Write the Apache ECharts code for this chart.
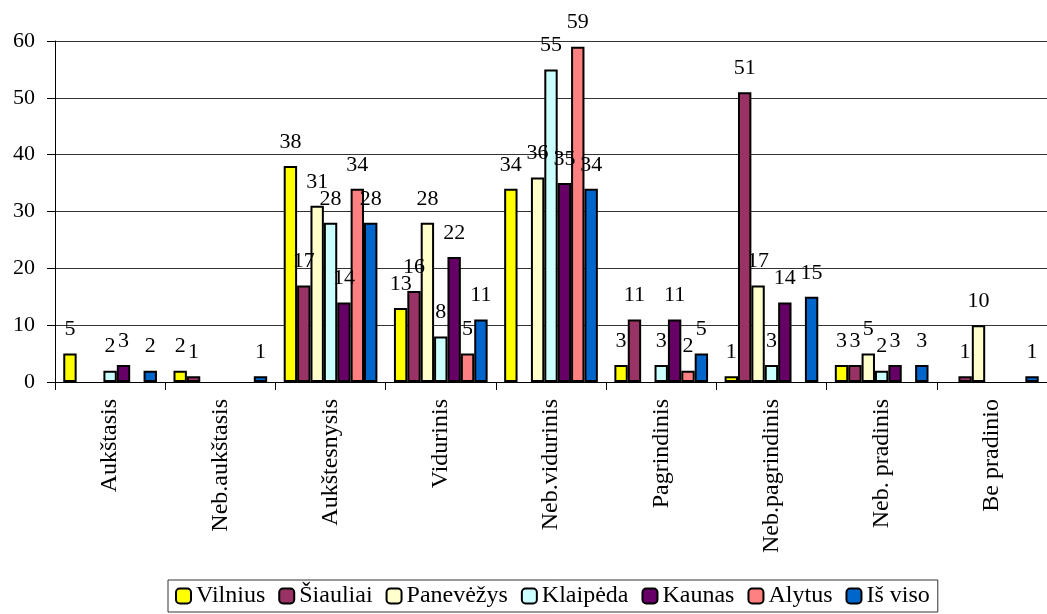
<!DOCTYPE html>
<html>
<head>
<meta charset="utf-8">
<script src="https://cdn.jsdelivr.net/npm/echarts@6/dist/echarts.min.js"></script>
<style>html,body{margin:0;padding:0;background:#fff;}#c{width:1047px;height:614px;}</style>
</head>
<body>
<div id="c"></div>
<script>
const categories = ['Aukštasis', 'Neb.aukštasis', 'Aukštesnysis', 'Vidurinis', 'Neb.vidurinis', 'Pagrindinis', 'Neb.pagrindinis', 'Neb. pradinis', 'Be pradinio'];
const yTicks = [0, 10, 20, 30, 40, 50, 60];
const seriesNames = ['Vilnius', 'Šiauliai', 'Panevėžys', 'Klaipėda', 'Kaunas', 'Alytus', 'Iš viso'];
const vilnius   = [5, 2, 38, 13, 34, 3, 1, 3, null];
const siauliai  = [null, 1, 17, 16, null, 11, 51, 3, 1];
const panevezys = [null, null, 31, 28, 36, null, 17, 5, 10];
const klaipeda  = [2, null, 28, 8, 55, 3, 3, 2, null];
const kaunas    = [3, null, 14, 22, 35, 11, 14, 3, null];
const alytus    = [null, null, 34, 5, 59, 2, null, null, null];
const isViso    = [2, 1, 28, 11, 34, 5, 15, 3, 1];
const colors = ['#FFFF00', '#993366', '#FFFFCC', '#CCFFFF', '#660066', '#FF8080', '#0066CC'];
const values = [vilnius, siauliai, panevezys, klaipeda, kaunas, alytus, isViso];

const font = "'Liberation Serif', 'Times New Roman', serif";
const chart = echarts.init(document.getElementById('c'), null, {renderer: 'canvas'});
chart.setOption({
  animation: false,
  backgroundColor: '#fff',
  grid: {left: 55, right: -5, top: 41, bottom: 232, containLabel: false},
  legend: {
    top: 580, left: 168,
    data: seriesNames,
    itemWidth: 15, itemHeight: 15, itemGap: 13,
    padding: [4, 8, 4, 7],
    borderColor: '#333', borderWidth: 1, borderRadius: 0,
    textStyle: {fontFamily: font, fontSize: 24, color: '#000'}
  },
  xAxis: {
    type: 'category', data: categories,
    axisLine: {lineStyle: {color: '#000', width: 1}},
    axisTick: {show: true, alignWithLabel: false, length: 8, lineStyle: {color: '#000'}},
    axisLabel: {rotate: 90, interval: 0, margin: 17, fontFamily: font, fontSize: 24, color: '#000'}
  },
  yAxis: {
    type: 'value', min: yTicks[0], max: yTicks[yTicks.length - 1], interval: 10,
    axisLine: {show: true, lineStyle: {color: '#000', width: 1}},
    axisTick: {show: true, length: 8, lineStyle: {color: '#000'}},
    axisLabel: {margin: 20, fontFamily: font, fontSize: 22, color: '#000'},
    splitLine: {lineStyle: {color: '#333', width: 1}}
  },
  series: seriesNames.map((n, i) => ({
    name: n, type: 'bar', data: values[i],
    barGap: '0%', barCategoryGap: '15%',
    itemStyle: {color: colors[i], borderColor: '#000', borderWidth: 2},
    label: {show: true, position: 'top', distance: 13, fontFamily: font, fontSize: 22, color: '#000'}
  }))
});
</script>
</body>
</html>
